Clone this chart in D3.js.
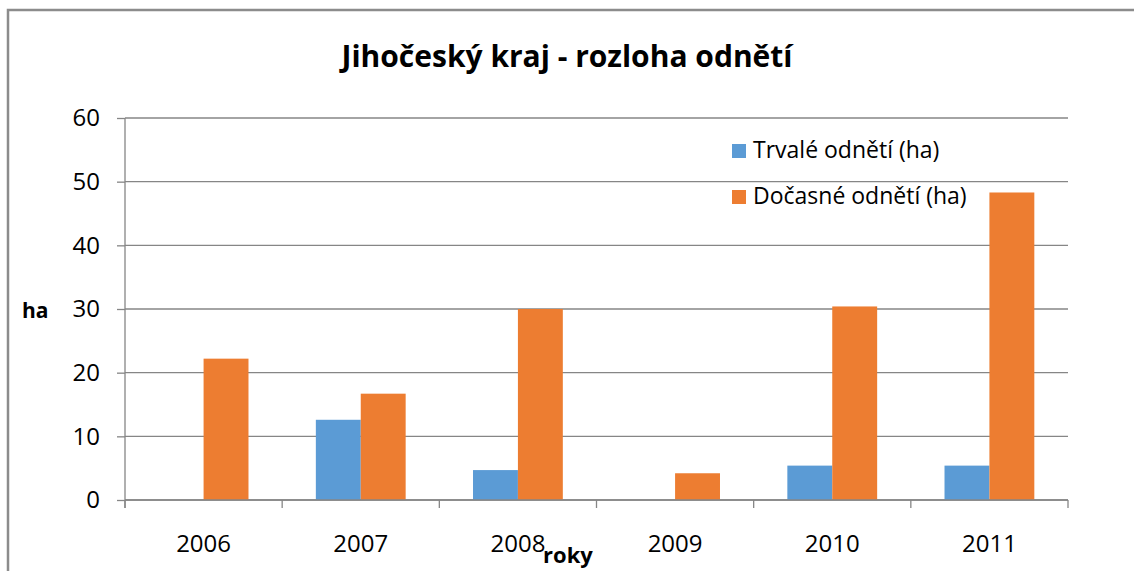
<!DOCTYPE html>
<html>
<head>
<meta charset="utf-8">
<script src="https://cdn.jsdelivr.net/npm/d3@7"></script>
<style>
  html, body { margin: 0; background: #fff; overflow: hidden; }
  svg { display: block; }
  text { font-family: "Open Sans", sans-serif; fill: #000; }
</style>
</head>
<body>
<div id="chart"></div>
<script>
// rozměry
const width = 1134
const height = 571
const margin = { top: 118, bottom: 71, left: 125, right: 66 }

// data
const roky = ["2006", "2007", "2008", "2009", "2010", "2011"]
const trvale = [0, 12.6, 4.7, 0, 5.4, 5.4]
const docasne = [22.2, 16.7, 30.0, 4.2, 30.4, 48.3]
const serie = ["Trvalé odnětí (ha)", "Dočasné odnětí (ha)"]
const barvy = ["#5B9BD5", "#ED7D31"]
const yTicks = [0, 10, 20, 30, 40, 50, 60]

const svg = d3.select("#chart")
    .append("svg")
    .attr("width", width)
    .attr("height", height)

// rámeček grafu
svg.append("path")
    .attr("d", `M8,${height + 10} L8,10 L${width + 10},10`)
    .attr("fill", "none")
    .attr("stroke", "#8c8c8c")
    .attr("stroke-width", 2.5)

const innerW = width - margin.left - margin.right
const innerH = height - margin.top - margin.bottom

const x = d3.scaleBand().domain(roky).range([0, innerW]).paddingInner(0).paddingOuter(0)
// Excel gap width 150 % -> sloupec = 1/(2+1.5) kategorie
const x1 = d3.scaleBand().domain(serie).range([x.bandwidth() * 0.75 / 3.5, x.bandwidth() * (1 - 0.75 / 3.5)])
const y = d3.scaleLinear().domain([0, 60]).range([innerH, 0])

const g = svg.append("g").attr("transform", `translate(${margin.left},${margin.top})`)

// mřížka + osa y
const yAxis = d3.axisLeft(y).tickValues(yTicks).tickSize(8).tickPadding(17)
const yAxisGroup = g.append("g").call(yAxis)
yAxisGroup.select(".domain").remove()
yAxisGroup.selectAll(".tick line").attr("stroke", "#868686").attr("stroke-width", 1.3)
yAxisGroup.selectAll(".tick text").attr("font-size", 24).attr("font-family", "Open Sans").attr("fill", "#000")

g.append("g")
    .selectAll("line")
    .data(yTicks)
    .join("line")
    .attr("x1", 0).attr("x2", innerW)
    .attr("y1", d => y(d)).attr("y2", d => y(d))
    .attr("stroke", "#868686")
    .attr("stroke-width", 1.3)

g.append("line")
    .attr("x1", 0).attr("x2", 0)
    .attr("y1", 0).attr("y2", innerH + 8)
    .attr("stroke", "#868686")
    .attr("stroke-width", 1.3)

// sloupce
const data = roky.map((r, i) => ({ rok: r, hodnoty: [trvale[i], docasne[i]] }))
g.append("g")
    .selectAll("g")
    .data(data)
    .join("g")
    .attr("transform", d => `translate(${x(d.rok)},0)`)
    .selectAll("rect")
    .data(d => d.hodnoty.map((v, j) => ({ serie: serie[j], v: v, j: j })))
    .join("rect")
    .attr("x", d => x1(d.serie))
    .attr("width", x1.bandwidth())
    .attr("y", d => y(d.v))
    .attr("height", d => innerH - y(d.v))
    .attr("fill", d => barvy[d.j])

// osa x
const xTicks = d3.range(roky.length + 1).map(i => i * x.bandwidth())
const xAxisGroup = g.append("g").attr("transform", `translate(0,${innerH})`)
xAxisGroup.append("line")
    .attr("x1", 0).attr("x2", innerW)
    .attr("stroke", "#868686").attr("stroke-width", 1.3)
xAxisGroup.selectAll("line.tick")
    .data(xTicks)
    .join("line")
    .attr("class", "tick")
    .attr("x1", d => d).attr("x2", d => d)
    .attr("y1", 0).attr("y2", 8)
    .attr("stroke", "#868686").attr("stroke-width", 1.3)
xAxisGroup.selectAll("text")
    .data(roky)
    .join("text")
    .attr("x", d => x(d) + x.bandwidth() / 2)
    .attr("y", 52)
    .attr("text-anchor", "middle")
    .attr("font-size", 24)
    .text(d => d)

// titulky
svg.append("text")
    .attr("x", 567)
    .attr("y", 67)
    .attr("text-anchor", "middle")
    .attr("font-size", 30)
    .attr("font-weight", "bold")
    .text("Jihočeský kraj - rozloha odnětí")

svg.append("text")
    .attr("x", 22)
    .attr("y", 318)
    .attr("font-size", 21)
    .attr("font-weight", "bold")
    .text("ha")

svg.append("text")
    .attr("x", 568)
    .attr("y", 563)
    .attr("text-anchor", "middle")
    .attr("font-size", 22)
    .attr("font-weight", "bold")
    .text("roky")

// legenda
const legend = svg.append("g").attr("transform", "translate(732,144)")
const polozky = legend.selectAll("g")
    .data(serie)
    .join("g")
    .attr("transform", (d, i) => `translate(0,${i * 46})`)
polozky.append("rect")
    .attr("width", 14).attr("height", 14)
    .attr("fill", (d, i) => barvy[i])
polozky.append("text")
    .attr("x", 21)
    .attr("y", 14)
    .attr("font-size", 23)
    .text(d => d)
</script>
</body>
</html>
